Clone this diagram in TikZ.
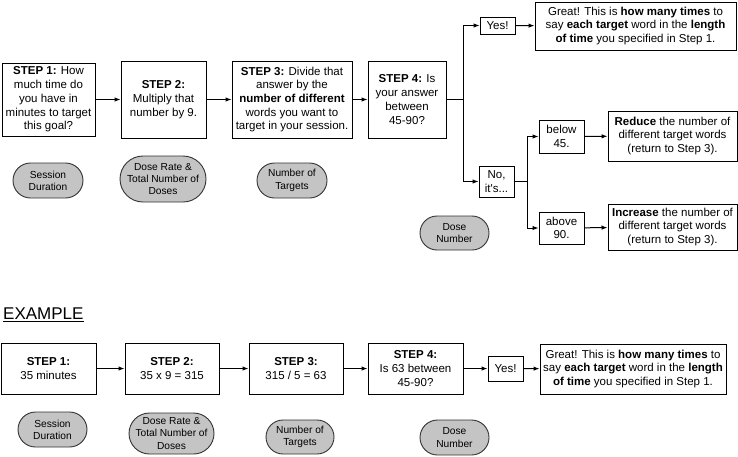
\documentclass[tikz,border=0pt]{standalone}
\usepackage{fontspec}
\setmainfont{Liberation Sans}
\usetikzlibrary{arrows.meta}
\definecolor{pillgray}{HTML}{C4C4C4}
\tikzset{
  box/.style={draw=black, line width=1pt, align=center, inner sep=1pt,
    font=\fontsize{11.5}{13.7}\selectfont},
  pill/.style={draw=black!80, line width=0.9pt, fill=pillgray, align=center, inner sep=1pt,
    rounded corners=#1, font=\fontsize{10.2}{12.3}\selectfont},
  arr/.style={line width=1pt, -{Latex[length=6pt,width=4.5pt]}},
  ln/.style={line width=1pt}
}
\begin{document}
\begin{tikzpicture}[x=1pt,y=-1pt]
\useasboundingbox (0,0) rectangle (738,456);
% top row
\node[box, minimum width=93, minimum height=73] (s1) at (48.5,99.5)
  {\textbf{STEP 1:} How\\much time do\\you have in\\minutes to target\\this goal?};
\node[box, minimum width=85, minimum height=77] (s2) at (163.5,99.5)
  {\textbf{STEP 2:}\\Multiply that\\number by 9.};
\node[box, minimum width=120, minimum height=77] (s3) at (292,99.5)
  {\textbf{STEP 3:} Divide that\\answer by the\\\textbf{number of different}\\words you want to\\target in your session.};
\node[box, minimum width=78, minimum height=77] (s4) at (407,99.5)
  {\textbf{STEP 4:} Is\\your answer\\between\\45-90?};
\node[box, minimum width=35, minimum height=17] (yes1) at (497.5,25.5) {Yes!};
\node[box, minimum width=201, minimum height=48] (great1) at (635.5,26)
  {Great! This is \textbf{how many times} to\\say \textbf{each target} word in the \textbf{length}\\\textbf{of time} you specified in Step 1.};
\node[box, minimum width=35, minimum height=31] (no) at (496.5,181.5) {No,\\it\textquotesingle s...};
\node[box, minimum width=45, minimum height=33] (below) at (561.5,136.5) {below\\45.};
\node[box, minimum width=129, minimum height=50] (reduce) at (672.5,136)
  {\textbf{Reduce} the number of\\different target words\\(return to Step 3).};
\node[box, minimum width=45, minimum height=32] (above) at (561.5,228) {above\\90.};
\node[box, minimum width=129, minimum height=46] (increase) at (672.5,227)
  {\textbf{Increase} the number of\\different target words\\(return to Step 3).};
% pills top
\node[pill=17.5pt, minimum width=70, minimum height=35] (p1) at (48,180.5) {Session\\Duration};
\node[pill=23pt, minimum width=86, minimum height=46] (p2) at (163,179) {Dose Rate \&\\Total Number of\\Doses};
\node[pill=17.5pt, minimum width=70, minimum height=35] (p3) at (292,180.5) {Number of\\Targets};
\node[pill=17pt, minimum width=69, minimum height=34] (p4) at (454.5,233) {Dose\\Number};
% connectors top
\coordinate (j1) at (463,99.5);
\coordinate (j2) at (527,181.5);
\draw[arr] (s1) -- (s2);
\draw[arr] (s2) -- (s3);
\draw[arr] (s3) -- (s4);
\draw[ln] (s4.east) -- (j1);
\draw[arr] (j1) |- (yes1.west);
\draw[arr] (j1) |- (no.west);
\draw[arr] (yes1) -- (great1);
\draw[ln] (no.east) -- (j2);
\draw[arr] (j2) |- (below.west);
\draw[arr] (j2) |- (above.west);
\draw[arr] (below) -- (reduce);
\draw[arr] (above) -- (increase);
% example
\node[anchor=base west, inner sep=0pt, font=\fontsize{17}{20}\selectfont] (ex) at (3,319) {EXAMPLE};
\draw[line width=0.9pt] ([yshift=-2.8pt]ex.base west) -- ([yshift=-2.8pt]ex.base east);
\node[box, minimum width=95, minimum height=51] (e1) at (48.5,368.5) {\textbf{STEP 1:}\\35 minutes};
\node[box, minimum width=94, minimum height=51] (e2) at (172,368.5) {\textbf{STEP 2:}\\35 x 9 = 315};
\node[box, minimum width=94, minimum height=51] (e3) at (296,368.5) {\textbf{STEP 3:}\\315 / 5 = 63};
\node[box, minimum width=95, minimum height=51] (e4) at (415.5,368.5) {\textbf{STEP 4:}\\Is 63 between\\45-90?};
\node[box, minimum width=35, minimum height=25] (eyes) at (505.5,368.5) {Yes!};
\node[box, minimum width=186, minimum height=50] (egreat) at (633,369)
  {Great! This is \textbf{how many times} to\\say \textbf{each target} word in the \textbf{length}\\\textbf{of time} you specified in Step 1.};
\node[pill=17.5pt, minimum width=69, minimum height=35] (ep1) at (52.5,429.5) {Session\\Duration};
\node[pill=20.5pt, minimum width=85, minimum height=41] (ep2) at (171.5,433.5) {Dose Rate \&\\Total Number of\\Doses};
\node[pill=17pt, minimum width=68, minimum height=34] (ep3) at (300,437) {Number of\\Targets};
\node[pill=17.5pt, minimum width=69, minimum height=35] (ep4) at (454.5,437.5) {Dose\\Number};
\draw[arr] (e1) -- (e2);
\draw[arr] (e2) -- (e3);
\draw[arr] (e3) -- (e4);
\draw[arr] (e4) -- (eyes);
\draw[arr] (eyes) -- (egreat);
\end{tikzpicture}
\end{document}
